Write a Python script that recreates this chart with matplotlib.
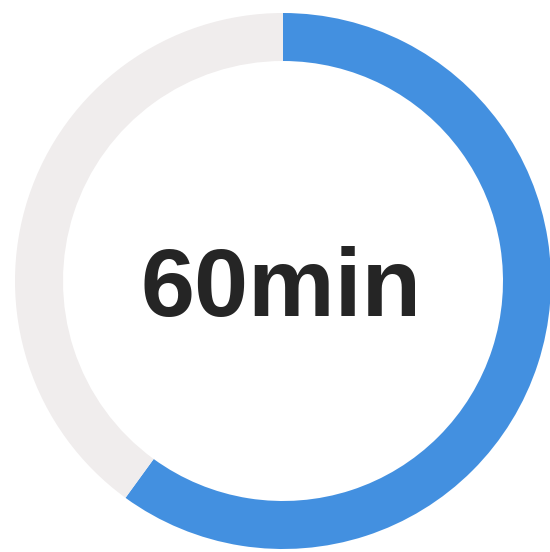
import matplotlib.pyplot as plt

# data
values = [60, 40]
colors = ['#4390e0', '#f0eded']
label = '60min'

fig = plt.figure(figsize=(5.5, 5.52), dpi=100)
ax = fig.add_axes([0, 0, 1, 1])

ax.pie(values, colors=colors, startangle=90, counterclock=False,
       center=(283, 271), radius=268, frame=True,
       wedgeprops=dict(width=48, linewidth=0))
ax.set_xlim(0, 550)
ax.set_ylim(0, 552)
ax.set_aspect('equal')
ax.axis('off')

ax.text(281, 261, label, ha='center', va='center', fontsize=70,
        fontweight='bold', color='#252525', family='Liberation Sans')

fig.savefig('out.png', dpi=100)
